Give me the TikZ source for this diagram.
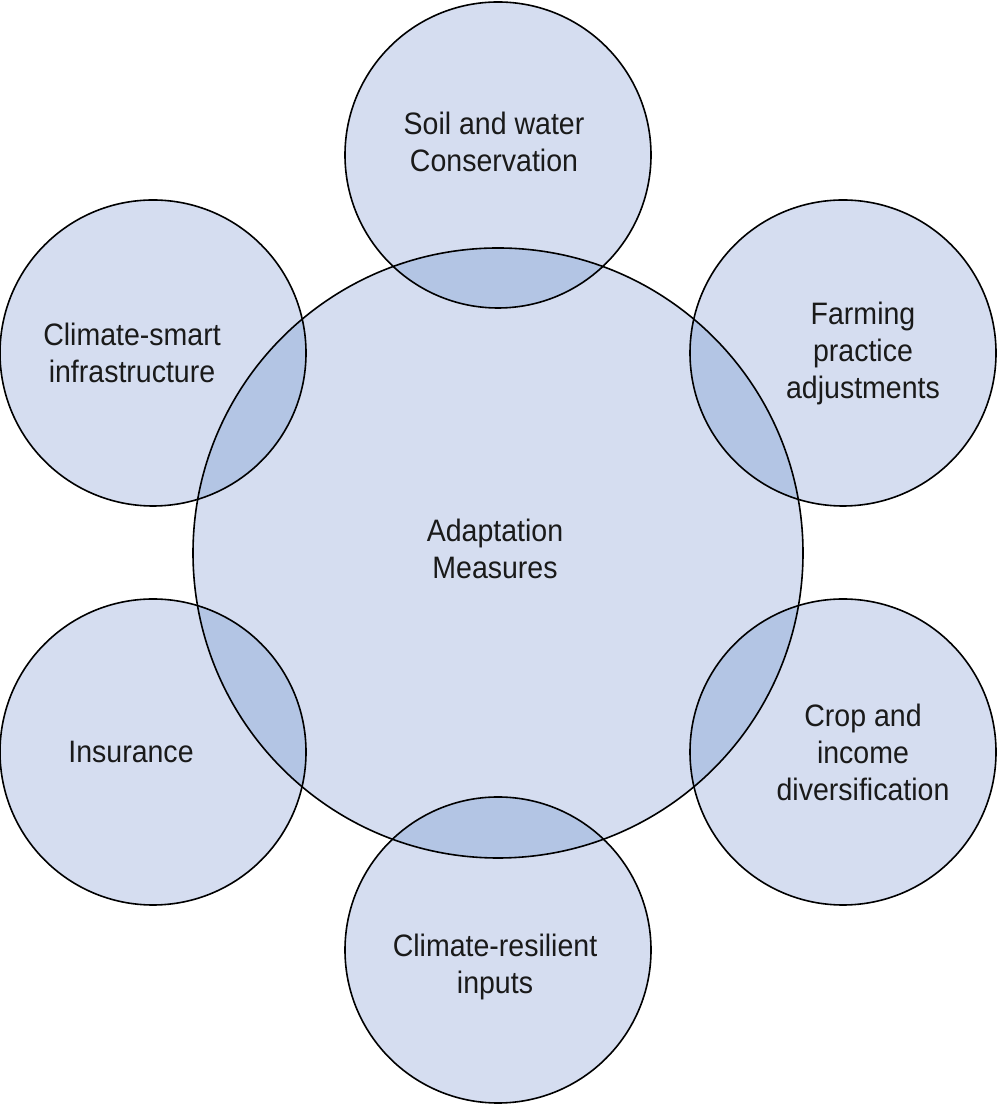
\documentclass[tikz,border=0pt]{standalone}
\usepackage{fontspec}
\setmainfont{Liberation Sans}[FakeStretch=0.92]
\usepackage{xcolor}
\usepackage{tikz}
\usetikzlibrary{positioning}

\definecolor{discfill}{HTML}{D5DDF0}
\definecolor{lensfill}{HTML}{B3C5E4}
\definecolor{inkcol}{HTML}{1A1A1A}

\begin{document}
\begin{tikzpicture}[
  x=1pt, y=1pt,
  hub/.style={
    circle, fill=discfill,
    inner sep=0pt,
    minimum size=610pt
  },
  disc/.style={
    circle, fill=discfill,
    inner sep=0pt,
    minimum size=306pt
  },
  lens/.style={fill=lensfill},
  rim/.style={draw=black, line width=1.6pt},
  lbl/.style={
    align=center, text=inkcol,
    font=\fontsize{31}{37}\selectfont
  }
]
\useasboundingbox (0,0) rectangle (1000,1105);

% circles
\node[hub]  (adapt)  at (498,552) {};
\node[disc] (soil)   at (498,950) {};
\node[disc] (farm)   at (843,752) {};
\node[disc] (crop)   at (843,353) {};
\node[disc] (inputs) at (498,155) {};
\node[disc] (insur)  at (153,353) {};
\node[disc] (infra)  at (153,752) {};

% overlaps with the centre
\begin{scope}
  \clip (adapt.center) circle (305);
  \fill[lens] (soil.center)   circle (153);
  \fill[lens] (farm.center)   circle (153);
  \fill[lens] (crop.center)   circle (153);
  \fill[lens] (inputs.center) circle (153);
  \fill[lens] (insur.center)  circle (153);
  \fill[lens] (infra.center)  circle (153);
\end{scope}

% outlines
\draw[rim] (adapt.center)  circle (305);
\draw[rim] (soil.center)   circle (153);
\draw[rim] (farm.center)   circle (153);
\draw[rim] (crop.center)   circle (153);
\draw[rim] (inputs.center) circle (153);
\draw[rim] (insur.center)  circle (153);
\draw[rim] (infra.center)  circle (153);

% labels
\node[lbl] (adaptlbl)  at ([xshift=-3,yshift=4]adapt.center)    {Adaptation\\Measures};
\node[lbl] (soillbl)   at ([xshift=-4,yshift=13]soil.center)    {Soil and water\\Conservation};
\node[lbl] (farmlbl)   at ([xshift=20]farm.center)              {Farming\\practice\\adjustments};
\node[lbl] (croplbl)   at ([xshift=20]crop.center)              {Crop and\\income\\diversification};
\node[lbl] (inputslbl) at ([xshift=-3,yshift=-17]inputs.center) {Climate-resilient\\inputs};
\node[lbl] (insurlbl)  at ([xshift=-22]insur.center)            {Insurance};
\node[lbl] (infralbl)  at ([xshift=-21]infra.center)            {Climate-smart\\infrastructure};

\end{tikzpicture}
\end{document}
